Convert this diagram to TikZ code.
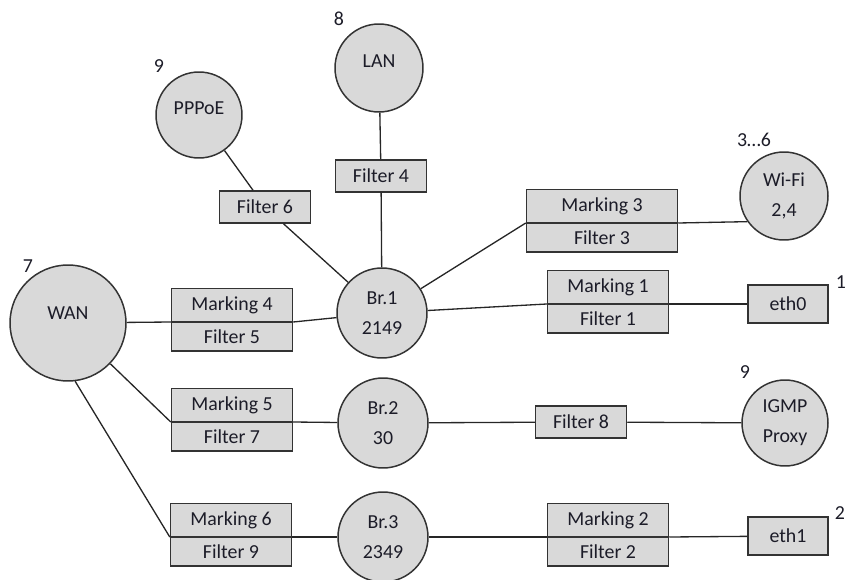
\documentclass[tikz,border=0pt]{standalone}
\usepackage{fontspec}
\setmainfont{Carlito}
\usetikzlibrary{shapes,arrows}
\definecolor{mygray}{RGB}{217,217,217}
\definecolor{mytext}{RGB}{28,28,40}
\newcommand{\diafont}{\fontsize{11.3}{17}\selectfont}

\begin{document}
\begin{tikzpicture}[x=0.02cm,y=-0.02cm]

\tikzstyle{iface} = [draw, circle, inner sep=0, line width=0.85, draw=black!80,
fill=mygray, text=mytext, align=center, font=\diafont]
\tikzstyle{single} = [text height=8pt, text depth=9pt]
\tikzstyle{filt} = [draw, rectangle, inner sep=0, minimum width=1.82cm, minimum height=0.64cm,
line width=0.85, draw=black!80, fill=mygray, text=mytext, font=\diafont]
\tikzstyle{port} = [filt, minimum width=1.6cm, minimum height=0.76cm]
\tikzstyle{markfilt} = [draw, rectangle split, rectangle split parts=2, inner xsep=0, inner ysep=3.8pt,
text height=8pt, text depth=2.5pt, minimum width=2.42cm, line width=0.85, draw=black!80,
fill=mygray, text=mytext, font=\diafont]
\tikzstyle{num} = [text=mytext, font=\diafont, inner sep=0]
\tikzstyle{link} = [line width=0.75, draw=black!85]

\useasboundingbox (0,0) rectangle (847,580);

% interfaces
\node [iface, single, text depth=12pt, minimum size=2.32cm] (wan) at (68,323) {WAN};
\node [iface, single, minimum size=1.72cm] (pppoe) at (199,115) {PPPoE};
\node [iface, single, minimum size=1.76cm] (lan) at (379,68) {LAN};
\node [iface, minimum size=1.76cm] (wifi) at (784,196) {Wi-Fi\\2,4};
\node [iface, minimum size=1.72cm] (igmp) at (785,423) {IGMP\\Proxy};
\node [port] (eth0) at (788,304) {eth0};
\node [port] (eth1) at (788,536) {eth1};

% bridges
\node [iface, minimum size=1.8cm] (br1) at (382,313) {Br.1\\2149};
\node [iface, minimum size=1.8cm] (br2) at (383,423) {Br.2\\30};
\node [iface, minimum size=1.8cm] (br3) at (383,537) {Br.3\\2349};

% filters and markings
\node [filt] (f6) at (265,207) {Filter 6};
\node [filt] (f4) at (381,176) {Filter 4};
\node [filt] (f8) at (581,422) {Filter 8};
\node [markfilt, anchor=text split, minimum width=3.02cm] (m3) at (602,223) {Marking 3\nodepart{two}Filter 3};
\node [markfilt, anchor=text split] (m1) at (608,304) {Marking 1\nodepart{two}Filter 1};
\node [markfilt, anchor=text split] (m4) at (232,322) {Marking 4\nodepart{two}Filter 5};
\node [markfilt, anchor=text split] (m5) at (232,422) {Marking 5\nodepart{two}Filter 7};
\node [markfilt, anchor=text split] (m6) at (231,537) {Marking 6\nodepart{two}Filter 9};
\node [markfilt, anchor=text split] (m2) at (608,537) {Marking 2\nodepart{two}Filter 2};

% numbers
\node [num] (n7) at (28,266) {7};
\node [num] (n9a) at (159,66) {9};
\node [num] (n8) at (339,19) {8};
\node [num] (n36) at (754,140) {3…6};
\node [num] (n1) at (841,282) {1};
\node [num] (n9b) at (745,372) {9};
\node [num] (n2) at (840,513) {2};

% links
\draw [link] (wan) -- (m4.text split west);
\draw [link] (m4.text split east) -- (br1);
\draw [link] (wan) -- (m5.text split west);
\draw [link] (m5.text split east) -- (br2);
\draw [link] (wan.-83) -- (m6.text split west);
\draw [link] (m6.text split east) -- (br3);
\draw [link] (pppoe) -- (f6) -- (br1);
\draw [link] (lan) -- (f4) -- (br1);
\draw [link] (br1) -- (m3.text split west);
\draw [link] (m3.text split east) -- (wifi.215);
\draw [link] (br1) -- (m1.text split west);
\draw [link] (m1.text split east) -- (eth0);
\draw [link] (br2) -- (f8) -- (igmp);
\draw [link] (br3) -- (m2.text split west);
\draw [link] (m2.text split east) -- (eth1);

\end{tikzpicture}
\end{document}
